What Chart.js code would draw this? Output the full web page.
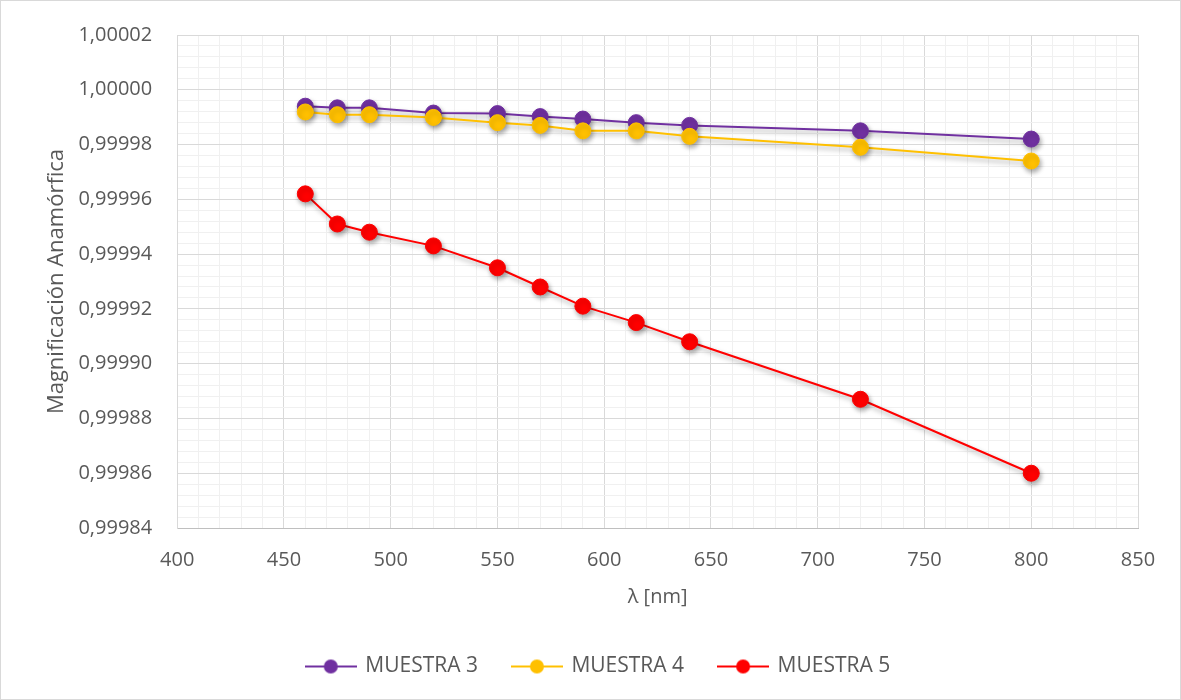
<!DOCTYPE html>
<html lang="es">
<head>
  <meta charset="UTF-8" />
  <title>Magnificación Anamórfica</title>
  <script src="https://cdn.jsdelivr.net/npm/chart.js"></script>
  <style>
    html, body {
      margin: 0;
      background: #fff;
    }
    .wrap {
      width: 1181px;
      height: 700px;
      box-sizing: border-box;
      border: 1px solid #d9d9d9;
      position: relative;
    }
  </style>
</head>
<body>
  <div class="wrap"><canvas id="chart"></canvas></div>

  <script>
    // wavelengths in nm
    const wavelengths = [460, 475, 490, 520, 550, 570, 590, 615, 640, 720, 800];

    const muestra3 = [0.999994, 0.9999934, 0.9999934, 0.9999915, 0.9999913, 0.9999902, 0.9999893, 0.999988, 0.999987, 0.999985, 0.999982];
    const muestra4 = [0.9999919, 0.9999909, 0.9999909, 0.9999899, 0.999988, 0.999987, 0.999985, 0.999985, 0.999983, 0.999979, 0.999974];
    const muestra5 = [0.999962, 0.999951, 0.999948, 0.999943, 0.999935, 0.999928, 0.999921, 0.999915, 0.999908, 0.999887, 0.99986];

    const seriesNames = ["MUESTRA 3", "MUESTRA 4", "MUESTRA 5"];
    const seriesColors = ["#7030A0", "#FFC000", "#FF0000"];

    // axis ticks (major), minor grid every fifth
    const xTicks = [400, 450, 500, 550, 600, 650, 700, 750, 800, 850];
    const yTicks = [0.99984, 0.99986, 0.99988, 0.9999, 0.99992, 0.99994, 0.99996, 0.99998, 1.0, 1.00002];
    const minorPerMajor = 5;

    const textColor = "#595959";
    const font = "'Open Sans', sans-serif";

    function withMinor(majors) {
      const out = [];
      for (let i = 0; i < majors.length - 1; i++) {
        const step = (majors[i + 1] - majors[i]) / minorPerMajor;
        for (let k = 0; k < minorPerMajor; k++) out.push({ value: majors[i] + k * step });
      }
      out.push({ value: majors[majors.length - 1] });
      return out;
    }

    function gridColor(ctx) {
      return ctx.index % minorPerMajor === 0 ? "#d9d9d9" : "#f0f0f0";
    }

    // little line + dot picture for the legend
    function legendMarker(color) {
      const c = document.createElement("canvas");
      c.width = 52;
      c.height = 18;
      const g = c.getContext("2d");
      g.strokeStyle = color;
      g.lineWidth = 2;
      g.beginPath();
      g.moveTo(0, 9);
      g.lineTo(52, 9);
      g.stroke();
      g.fillStyle = color;
      g.beginPath();
      g.arc(26, 9, 7, 0, Math.PI * 2);
      g.fill();
      return c;
    }
    const markers = seriesColors.map(legendMarker);

    const shadowPlugin = {
      id: "shadow",
      beforeDatasetDraw(chart) {
        const c = chart.ctx;
        c.save();
        c.shadowColor = "rgba(0,0,0,0.35)";
        c.shadowBlur = 5;
        c.shadowOffsetX = 1.5;
        c.shadowOffsetY = 3;
      },
      afterDatasetDraw(chart) {
        chart.ctx.restore();
      }
    };

    // excel centres the legend a bit more to the right
    const legendShift = {
      id: "legendShift",
      afterLayout(chart) {
        if (!chart.legend) return;
        chart.legend.left += 24;
        chart.legend.right += 24;
      }
    };

    const allSeries = [muestra3, muestra4, muestra5];
    const datasets = allSeries.map((vals, i) => ({
      label: seriesNames[i],
      data: wavelengths.map((x, j) => ({ x: x, y: vals[j] })),
      borderColor: seriesColors[i],
      backgroundColor: seriesColors[i],
      pointBackgroundColor: seriesColors[i],
      pointBorderColor: seriesColors[i],
      borderWidth: 2,
      pointRadius: 8,
      pointBorderWidth: 1,
      tension: 0,
      order: 3 - i
    }));

    new Chart(document.getElementById("chart"), {
      type: "line",
      data: { datasets },
      plugins: [shadowPlugin, legendShift],
      options: {
        responsive: true,
        maintainAspectRatio: false,
        animation: false,
        layout: { padding: { top: 20, right: 42, left: 10, bottom: 12 } },
        scales: {
          x: {
            type: "linear",
            min: 400,
            max: 850,
            afterBuildTicks: s => { s.ticks = withMinor(xTicks); },
            grid: { color: gridColor, drawTicks: false },
            border: { color: "#bfbfbf", width: 1 },
            ticks: {
              autoSkip: false,
              maxRotation: 0,
              padding: 20,
              color: textColor,
              font: { family: font, size: 20 },
              callback: (v, i) => (i % minorPerMajor === 0 ? String(Math.round(v)) : "")
            },
            title: {
              display: true,
              text: "λ [nm]",
              color: textColor,
              font: { family: font, size: 20 },
              padding: { top: -7, bottom: 12 }
            }
          },
          y: {
            type: "linear",
            min: 0.99984,
            max: 1.00002,
            afterBuildTicks: s => { s.ticks = withMinor(yTicks); },
            grid: { color: gridColor, drawTicks: false },
            border: { color: "#d9d9d9", width: 1 },
            ticks: {
              autoSkip: false,
              padding: 25,
              color: textColor,
              font: { family: font, size: 20, lineHeight: 0.9 },
              callback: (v, i) => (i % minorPerMajor === 0 ? v.toFixed(5).replace(".", ",") : "")
            },
            title: {
              display: true,
              text: "Magnificación Anamórfica",
              color: textColor,
              font: { family: font, size: 22 },
              padding: { top: 33, bottom: -17 }
            }
          }
        },
        plugins: {
          tooltip: { enabled: false },
          legend: {
            position: "bottom",
            labels: {
              usePointStyle: true,
              pointStyleWidth: 48,
              padding: 35,
              color: textColor,
              font: { family: font, size: 21 },
              generateLabels: chart => {
                const items = Chart.defaults.plugins.legend.labels.generateLabels(chart);
                items.sort((a, b) => a.datasetIndex - b.datasetIndex);
                items.forEach(it => { it.pointStyle = markers[it.datasetIndex]; });
                return items;
              }
            }
          }
        }
      }
    });
  </script>
</body>
</html>
